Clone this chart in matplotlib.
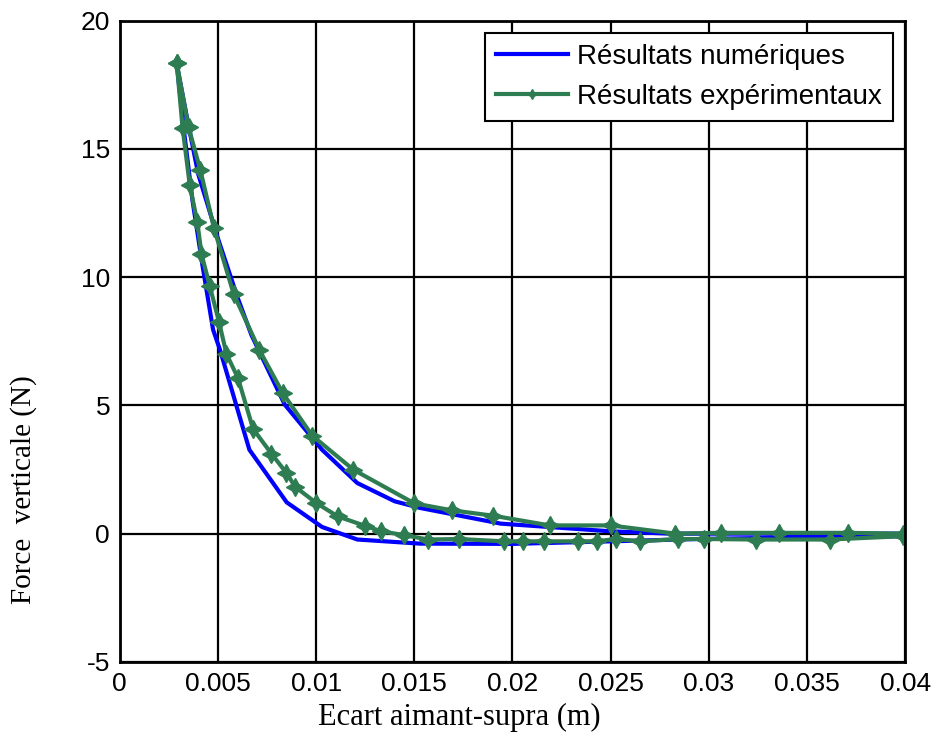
import numpy as np
import matplotlib
matplotlib.use("Agg")
import matplotlib.pyplot as plt

plt.rcParams['axes.unicode_minus'] = False

# numerical results (loop: going out on lower branch, coming back on upper)
x_num = [0.0029, 0.0033, 0.0037, 0.0042, 0.00475, 0.0051, 0.0066, 0.0085, 0.0103,
         0.0121, 0.0153, 0.020, 0.025, 0.030, 0.035, 0.040,
         0.040, 0.035, 0.030, 0.028, 0.025, 0.0194, 0.0153, 0.014, 0.0121, 0.0103,
         0.0084, 0.0067, 0.006, 0.005, 0.004, 0.0035, 0.0029]
f_num = [18.3, 15.5, 13.0, 10.5, 7.95, 7.17, 3.27, 1.22, 0.26,
         -0.23, -0.39, -0.40, -0.30, -0.20, -0.15, -0.10,
         0.0, 0.0, 0.0, 0.0, 0.09, 0.39, 1.0, 1.26, 1.97, 3.27,
         5.03, 7.75, 9.2, 11.5, 14.0, 15.9, 18.3]

# experimental results
x_exp = [0.0029, 0.0032, 0.00356, 0.00395, 0.00416, 0.00458, 0.00506, 0.00543, 0.00602,
         0.00679, 0.00772, 0.00849, 0.00894, 0.0100, 0.0111, 0.01247, 0.01332, 0.0145,
         0.0157, 0.0173, 0.01955, 0.02053, 0.02159, 0.02333, 0.0243, 0.02525, 0.02651,
         0.02843, 0.02974, 0.03241, 0.03615, 0.0399,
         0.0399, 0.0371, 0.0336, 0.0306, 0.0283, 0.0250, 0.0219, 0.0190, 0.0169, 0.0150,
         0.0119, 0.0098, 0.0083, 0.0071, 0.0058, 0.0048, 0.0041, 0.0035, 0.0029]
f_exp = [18.34, 15.80, 13.6, 12.13, 10.9, 9.66, 8.23, 7.01, 6.06,
         4.08, 3.12, 2.36, 1.82, 1.20, 0.67, 0.31, 0.09, -0.06,
         -0.23, -0.21, -0.30, -0.30, -0.30, -0.30, -0.30, -0.21, -0.30,
         -0.21, -0.21, -0.23, -0.23, -0.10,
         0.0, 0.03, 0.03, 0.03, 0.0, 0.32, 0.32, 0.70, 0.91, 1.18,
         2.49, 3.82, 5.48, 7.17, 9.34, 11.9, 14.18, 15.84, 18.34]

x_ticks = [0, 0.005, 0.01, 0.015, 0.02, 0.025, 0.03, 0.035, 0.04]
x_ticklabels = ['0', '0.005', '0.01', '0.015', '0.02', '0.025', '0.03', '0.035', '0.04']
y_ticks = [-5, 0, 5, 10, 15, 20]

blue = '#0000FF'
green = '#2E7D52'

fig = plt.figure(figsize=(9.36, 7.33), dpi=100)
ax = fig.add_axes([0.128, 0.097, 0.839, 0.875])

ax.plot(x_num, f_num, color=blue, lw=3, label='Résultats numériques')
ax.plot(x_exp, f_exp, color=green, lw=3, marker=(4, 1, 0), markersize=13,
        label='Résultats expérimentaux')

ax.set_xlim(0, 0.04)
ax.set_ylim(-5, 20)
ax.set_xticks(x_ticks)
ax.set_xticklabels(x_ticklabels)
ax.set_yticks(y_ticks)
ax.grid(True, color='black', lw=1.6, ls='-')
ax.set_axisbelow(True)
for s in ax.spines.values():
    s.set_linewidth(2)
ax.tick_params(direction='in', length=0, pad=7)
for lab in ax.get_xticklabels() + ax.get_yticklabels():
    lab.set_family('Liberation Sans')
    lab.set_fontsize(19)

ax.set_xlabel('Ecart aimant-supra (m)', family='Liberation Serif', fontsize=22)
ax.xaxis.set_label_coords(0.432, -0.086)
ax.xaxis.label.set_va('center')
ax.set_ylabel('Force  verticale (N)', family='Liberation Serif', fontsize=21)
ax.yaxis.set_label_coords(-0.122, 0.268)
ax.yaxis.label.set_va('center')

leg = ax.legend(loc='upper right', prop={'family': 'Liberation Sans', 'size': 20},
                fancybox=False, framealpha=1, edgecolor='black',
                borderaxespad=0.45, handlelength=2.6, handletextpad=0.3,
                borderpad=0.4, labelspacing=0.5, markerscale=0.55)
leg.get_frame().set_linewidth(1.5)

fig.savefig('out.png', dpi=100)
